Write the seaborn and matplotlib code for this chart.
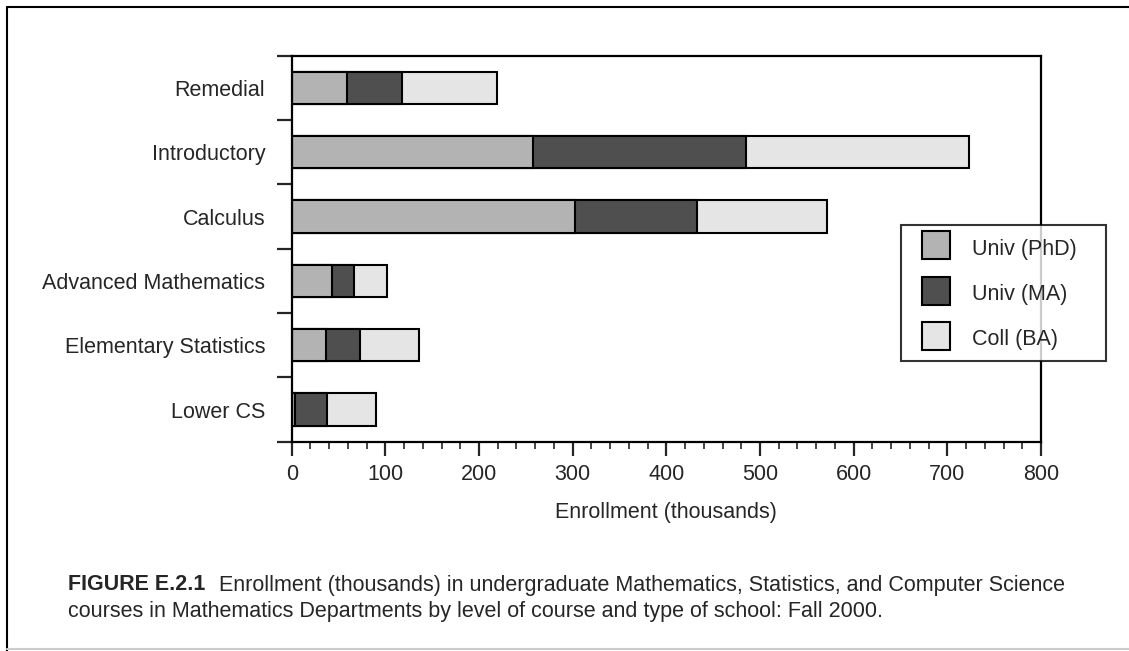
import numpy as np
import pandas as pd
import matplotlib
matplotlib.use("Agg")
import matplotlib.pyplot as plt
import seaborn as sns
from matplotlib.lines import Line2D
from matplotlib.ticker import MultipleLocator, FixedLocator

# Data (thousands)
courses = ["Remedial", "Introductory", "Calculus", "Advanced Mathematics",
           "Elementary Statistics", "Lower CS"]
univ_phd = [59, 258, 302, 43, 37, 4]
univ_ma = [59, 227, 131, 24, 36, 34]
coll_ba = [101, 238, 138, 35, 63, 52]
series_names = ["Univ (PhD)", "Univ (MA)", "Coll (BA)"]
series_colors = ["#b3b3b3", "#4f4f4f", "#e5e5e5"]

df = pd.DataFrame({"course": courses, "phd": univ_phd, "ma": univ_ma, "ba": coll_ba})
df["phd_ma"] = df["phd"] + df["ma"]
df["total"] = df["phd_ma"] + df["ba"]

sns.set_style("white")
plt.rcParams["font.family"] = ["Liberation Sans", "DejaVu Sans"]

fig = plt.figure(figsize=(11.29, 6.51), dpi=100)
W, H = 1129, 651
ax = fig.add_axes([291.7 / W, 1 - 441.7 / H, (1041 - 291.7) / W, (441.7 - 55.7) / H])

# stacked bars: draw cumulative totals back to front
for col, color in zip(["total", "phd_ma", "phd"], series_colors[::-1]):
    sns.barplot(data=df, y="course", x=col, orient="h", color=color, width=0.5,
                edgecolor="black", linewidth=1.5, saturation=1, ax=ax)

ax.set_xlim(0, 800)
ax.set_ylim(5.5, -0.5)
ax.set_ylabel("")
ax.set_xlabel("Enrollment (thousands)", fontsize=15.5, labelpad=12)

for s in ax.spines.values():
    s.set_linewidth(1.6)
    s.set_color("black")

ax.xaxis.set_major_locator(MultipleLocator(100))
ax.xaxis.set_minor_locator(MultipleLocator(20))
ax.tick_params(axis="x", which="major", direction="out", length=10, width=1.6,
               labelsize=15.5, pad=6, bottom=True)
ax.tick_params(axis="x", which="minor", direction="out", length=5, width=1.2, bottom=True)

ax.yaxis.set_minor_locator(FixedLocator(np.arange(-0.5, 6, 1)))
ax.tick_params(axis="y", which="major", length=0, labelsize=15.5, pad=19, left=True)
ax.tick_params(axis="y", which="minor", direction="out", length=10.5, width=1.6, left=True)

handles = [Line2D([], [], marker="s", linestyle="none", markersize=20,
                  markerfacecolor=c, markeredgecolor="black", markeredgewidth=1.5)
           for c in series_colors]
leg = ax.legend(handles, series_names, loc="upper left",
                bbox_to_anchor=(901 / W, 1 - 226 / H, 205 / W, 0.001),
                bbox_transform=fig.transFigure, mode="expand", borderaxespad=0,
                fontsize=15.5, frameon=True, fancybox=False, borderpad=0.5,
                handlelength=2.25, handleheight=1.26, handletextpad=0.55,
                labelspacing=1.0)
leg.get_frame().set_edgecolor("black")
leg.get_frame().set_linewidth(1.5)

# caption
fig.canvas.draw()
r = fig.canvas.get_renderer()
t1 = fig.text(68 / W, 1 - 585 / H, "FIGURE E.2.1", fontsize=15.5, fontweight="bold",
              va="center", ha="left")
bb = t1.get_window_extent(renderer=r)
fig.text((bb.x1 + 14) / W, 1 - 585 / H,
         "Enrollment (thousands) in undergraduate Mathematics, Statistics, and Computer Science",
         fontsize=15.5, va="center", ha="left")
fig.text(68 / W, 1 - 612 / H,
         "courses in Mathematics Departments by level of course and type of school: Fall 2000.",
         fontsize=15.5, va="center", ha="left")

# outer frame of the figure panel
fig.add_artist(Line2D([7 / W, 1], [1 - 7 / H, 1 - 7 / H], color="black", lw=1.5,
                      transform=fig.transFigure))
fig.add_artist(Line2D([7 / W, 7 / W], [1 - 7 / H, 0], color="black", lw=1.5,
                      transform=fig.transFigure))
fig.add_artist(Line2D([7 / W, 1], [1 - 649 / H, 1 - 649 / H], color="#cccccc", lw=1.5,
                      transform=fig.transFigure))

fig.savefig("out.png", dpi=100)
